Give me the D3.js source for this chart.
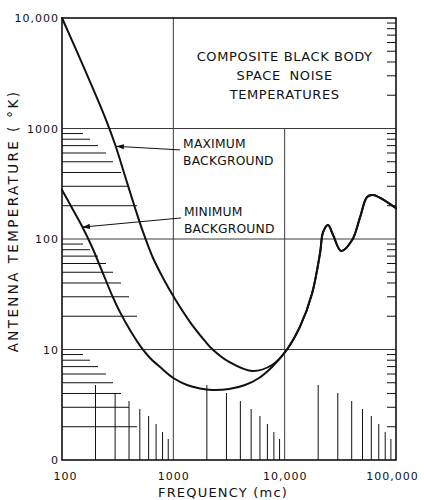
<!DOCTYPE html>
<html>
<head>
<meta charset="utf-8">
<script src="https://cdn.jsdelivr.net/npm/d3@7"></script>
<style>
  html, body { margin: 0; padding: 0; background: #fff; }
  svg { display: block; }
</style>
</head>
<body>
<script>
// Axis ticks and their printed labels
const freqTicks = [100, 1000, 10000, 100000];
const freqTickLabels = ["100", "1000", "10,000", "100,000"];
const tempTicks = [1, 10, 100, 1000, 10000];
const tempTickLabels = ["0", "10", "100", "1000", "10,000"];

// Maximum galactic background (frequency in mc, temperature in °K)
const maxBgFreq = [100, 161, 243, 299, 368, 453, 534, 657, 808, 1036, 1413, 1927, 2230, 3170, 5095, 7700, 10500];
const maxBgTemp = [10000, 3380, 1270, 724, 372, 191, 116, 67.3, 44.4, 28.6, 17.7, 11.9, 10.1, 7.71, 6.39, 7.24, 10];

// Minimum galactic background
const minBgFreq = [100, 123, 151, 186, 229, 281, 332, 408, 513, 618, 760, 1000, 1328, 1738, 2230, 3166, 4408, 5890, 7700, 10500];
const minBgTemp = [278, 191, 131, 84.7, 51.3, 31.1, 21.8, 15.0, 10.5, 8.38, 6.94, 5.52, 4.77, 4.44, 4.30, 4.39, 4.77, 5.52, 6.94, 10];

// Common high-frequency branch (atmospheric absorption lines)
const skyFreq = [10500, 13700, 17600, 20800, 22100, 24500, 27200, 32100, 40400, 47600, 55000, 62200, 100000];
const skyTemp = [10, 16, 32, 75, 115, 134, 109, 78, 98, 158, 240, 250, 190];

// Curve labels with leader arrows: arrow tail and tip in (mc, °K)
const curveLabels = [
  { lines: ["MAXIMUM", "BACKGROUND"], tail: [1150, 640], tip: [305, 690] },
  { lines: ["MINIMUM", "BACKGROUND"], tail: [1170, 155], tip: [151, 128] }
];

const titleLines = ["COMPOSITE BLACK BODY", "SPACE NOISE", "TEMPERATURES"];

// ---------------------------------------------------------------------------
const W = 424, H = 500;
const plot = { left: 62, right: 396, top: 18, bottom: 460 };
const ink = "#111";
const FONT = "'DejaVu Sans', 'Liberation Sans', sans-serif";

const x = d3.scaleLog().domain([100, 100000]).range([plot.left, plot.right]);
const y = d3.scaleLog().domain([1, 10000]).range([plot.bottom, plot.top]);

const svg = d3.select("body").append("svg")
  .attr("width", W).attr("height", H)
  .attr("viewBox", `0 0 ${W} ${H}`);

svg.append("rect").attr("width", W).attr("height", H).attr("fill", "#fff");

// log-ruler marks: minor values 2..9 within each decade
const minors = decades => decades.flatMap(d => d3.range(2, 10).map(k => ({ v: d * k, k })));
const rulerLen = [75, 67, 59, 51, 44, 36, 28, 21]; // mark length for multiplier 2..9

// grid lines
const grid = svg.append("g").attr("stroke", "#3a3a3a").attr("stroke-width", 1).attr("fill", "none");
grid.selectAll("line.h").data([10, 100, 1000]).join("line")
  .attr("x1", plot.left).attr("x2", plot.right)
  .attr("y1", d => y(d)).attr("y2", d => y(d));
grid.append("line")
  .attr("x1", x(1000)).attr("x2", x(1000))
  .attr("y1", plot.top).attr("y2", plot.bottom);
grid.append("line")
  .attr("x1", x(10000)).attr("x2", x(10000))
  .attr("y1", y(1000)).attr("y2", plot.bottom);

// left ruler (horizontal marks)
const rulers = svg.append("g").attr("stroke", ink).attr("stroke-width", 1);
rulers.selectAll("line.lr").data(minors([1, 10, 100])).join("line")
  .attr("class", "lr")
  .attr("x1", plot.left).attr("x2", d => plot.left + rulerLen[d.k - 2])
  .attr("y1", d => y(d.v)).attr("y2", d => y(d.v));

// bottom ruler (vertical marks)
rulers.selectAll("line.br").data(minors([100, 1000, 10000])).join("line")
  .attr("class", "br")
  .attr("x1", d => x(d.v)).attr("x2", d => x(d.v))
  .attr("y1", plot.bottom).attr("y2", d => plot.bottom - rulerLen[d.k - 2]);

// short inward ticks on the right edge
rulers.selectAll("line.rt").data(minors([1, 10, 100, 1000])).join("line")
  .attr("class", "rt")
  .attr("x1", plot.right - 9).attr("x2", plot.right)
  .attr("y1", d => y(d.v)).attr("y2", d => y(d.v));

// frame
svg.append("rect")
  .attr("x", plot.left).attr("y", plot.top)
  .attr("width", plot.right - plot.left).attr("height", plot.bottom - plot.top)
  .attr("fill", "none").attr("stroke", ink).attr("stroke-width", 1.6);

// curves
const line = d3.line().x(d => x(d[0])).y(d => y(d[1])).curve(d3.curveCatmullRom.alpha(0.5));
const tail = d3.zip(skyFreq, skyTemp).slice(1);
const curves = svg.append("g").attr("fill", "none").attr("stroke", ink)
  .attr("stroke-width", 2).attr("stroke-linejoin", "round").attr("stroke-linecap", "round");
curves.append("path").datum(d3.zip(maxBgFreq, maxBgTemp).concat(tail)).attr("d", line);
curves.append("path").datum(d3.zip(minBgFreq, minBgTemp).concat(tail)).attr("d", line);

// axes labels
const yAxis = d3.axisLeft(y).tickValues(tempTicks)
  .tickFormat((d, i) => tempTickLabels[i]).tickSize(0).tickPadding(3);
const gy = svg.append("g").attr("transform", `translate(${plot.left},0)`).call(yAxis);
gy.select(".domain").remove();
gy.selectAll("text").attr("font-family", FONT).attr("font-size", 11)
  .attr("letter-spacing", "1px").attr("fill", ink);

const xAxis = d3.axisBottom(x).tickValues(freqTicks)
  .tickFormat((d, i) => freqTickLabels[i]).tickSize(0).tickPadding(12);
const gx = svg.append("g").attr("transform", `translate(0,${plot.bottom})`).call(xAxis);
gx.select(".domain").remove();
gx.selectAll("text").attr("font-family", FONT).attr("font-size", 11)
  .attr("letter-spacing", "1px").attr("fill", ink)
  .attr("dx", (d, i) => i === 0 ? 3 : (i === freqTicks.length - 1 ? -4 : 0));

// axis titles
svg.append("text")
  .attr("x", 223).attr("y", 497)
  .attr("text-anchor", "middle")
  .attr("font-family", FONT).attr("font-size", 13).attr("letter-spacing", "1.2px")
  .attr("fill", ink)
  .text("FREQUENCY (mc)");

svg.append("text")
  .attr("transform", "translate(18,221) rotate(-90)")
  .attr("text-anchor", "middle")
  .attr("font-family", FONT).attr("font-size", 13.5).attr("letter-spacing", "2.4px")
  .attr("fill", ink)
  .text("ANTENNA TEMPERATURE ( °K)");

// title block
const titleX = (x(1000) + plot.right) / 2;
svg.append("g").selectAll("text").data(titleLines).join("text")
  .attr("x", titleX).attr("y", (d, i) => 61 + i * 19)
  .attr("text-anchor", "middle")
  .attr("font-family", FONT).attr("font-size", 13)
  .attr("letter-spacing", "0.6px").attr("word-spacing", (d, i) => i === 1 ? "4px" : "0px")
  .attr("fill", ink)
  .text(d => d);

// curve labels and arrows
const notes = svg.append("g");
curveLabels.forEach(c => {
  const [tx, ty] = [x(c.tail[0]), y(c.tail[1])];
  const [px, py] = [x(c.tip[0]), y(c.tip[1])];
  notes.append("line")
    .attr("x1", tx).attr("y1", ty).attr("x2", px).attr("y2", py)
    .attr("stroke", ink).attr("stroke-width", 1);
  const ang = Math.atan2(py - ty, px - tx);
  const L = 8, Wd = 2.6;
  const bx = px - L * Math.cos(ang), by = py - L * Math.sin(ang);
  const nx = -Math.sin(ang) * Wd, ny = Math.cos(ang) * Wd;
  notes.append("path")
    .attr("d", `M${px},${py}L${bx + nx},${by + ny}L${bx - nx},${by - ny}Z`)
    .attr("fill", ink);
  notes.selectAll(null).data(c.lines).join("text")
    .attr("x", tx + 3).attr("y", (d, i) => ty - 2 + i * 17.5)
    .attr("font-family", FONT).attr("font-size", 12.3).attr("letter-spacing", "0.2px")
    .attr("fill", ink)
    .text(d => d);
});
</script>
</body>
</html>
